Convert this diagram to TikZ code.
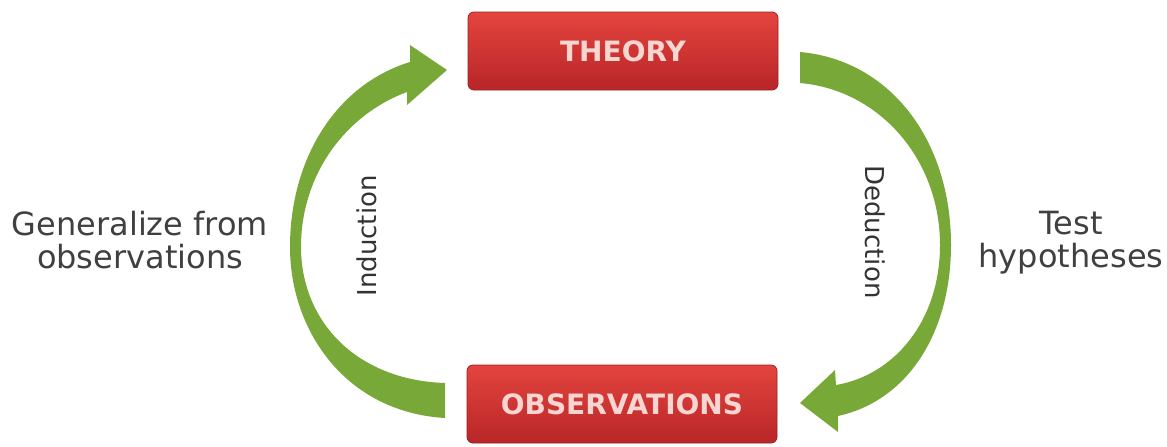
\documentclass[tikz,border=0pt]{standalone}
\usepackage{fontspec}
\setmainfont{DejaVu Sans}
\usetikzlibrary{calc}
\definecolor{arrowgreen}{RGB}{119,168,56}
\definecolor{boxtop}{RGB}{228,68,62}
\definecolor{boxbottom}{RGB}{184,38,40}
\definecolor{boxtext}{RGB}{247,214,210}
\tikzset{
  stage/.style={rounded corners=3pt, top color=boxtop, bottom color=boxbottom,
    draw=boxbottom!85!black, minimum width=155pt, minimum height=39pt,
    text=boxtext, font=\fontsize{14}{14}\selectfont\bfseries},
  side/.style={align=center, text=black!75, font=\fontsize{16}{16.5}\selectfont},
  turn/.style={text=black!80, font=\fontsize{13}{13}\selectfont},
  cyclearrow/.style={fill=arrowgreen}
}

\begin{document}
\begin{tikzpicture}[x=0.5pt,y=-0.5pt]
  \useasboundingbox (0,0) rectangle (1167,446);
  % boxes
  \node[stage] (theory) at (623,51) {THEORY};
  \node[stage] (obs) at (622,404) {OBSERVATIONS};
  % induction arrow, up the left side
  \fill[cyclearrow] (445,418) .. controls (345,412) and (290,330) .. (290,247)
    .. controls (290,160) and (335,85) .. (410,62) -- (410,45) -- (447,70)
    -- (407,105) -- (407,92) .. controls (345,115) and (301,175) .. (301,247)
    .. controls (301,320) and (355,380) .. (445,383) -- cycle;
  % deduction arrow, down the right side
  \fill[cyclearrow] (800,52) -- (800,83) .. controls (880,90) and (940,160) .. (940,245)
    .. controls (940,320) and (895,375) .. (836,385) -- (835,370) -- (800,403)
    -- (838,432) -- (838,416) .. controls (910,400) and (951,330) .. (951,245)
    .. controls (951,140) and (890,60) .. (800,52) -- cycle;
  % labels
  \node[turn, rotate=90] (induct) at (367,236) {Induction};
  \node[turn, rotate=-90] (deduct) at (875,232) {Deduction};
  \node[side] (general) at (140,240) {Generalize from\\observations};
  \node[side] (test) at (1071,243) {Test\\hypotheses};
\end{tikzpicture}
\end{document}
